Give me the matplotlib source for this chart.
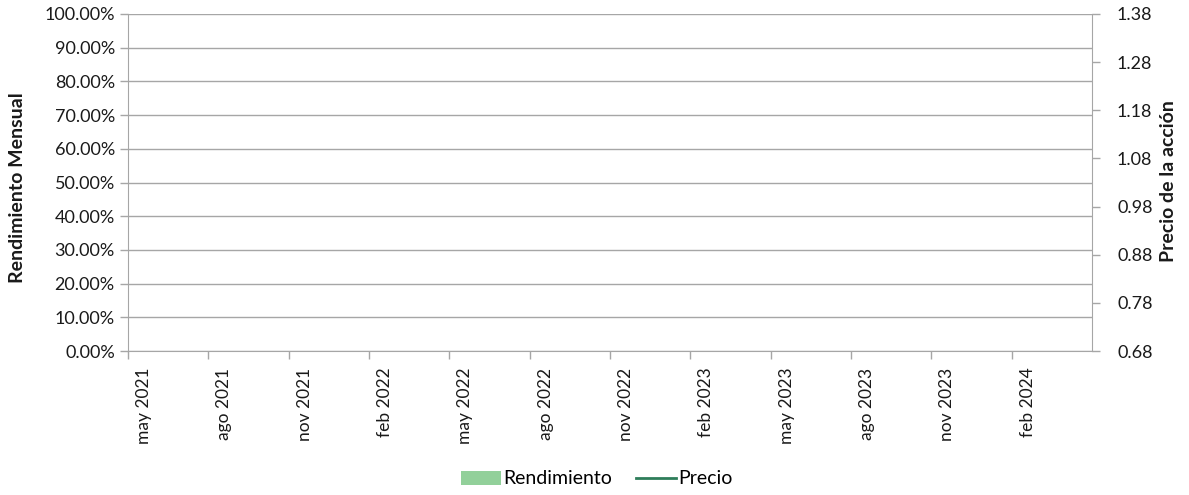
import matplotlib
matplotlib.use("Agg")
import matplotlib.pyplot as plt
from matplotlib.patches import Patch
from matplotlib.lines import Line2D
from matplotlib.ticker import FuncFormatter, FixedLocator

plt.rcParams['font.family'] = ['Lato', 'DejaVu Sans']

# Data (the reference chart shows no plotted values)
tick_labels = ["may 2021", "ago 2021", "nov 2021", "feb 2022", "may 2022", "ago 2022",
               "nov 2022", "feb 2023", "may 2023", "ago 2023", "nov 2023", "feb 2024"]
tick_months = [0, 3, 6, 9, 12, 15, 18, 21, 24, 27, 30, 33]
rend_months = []
rendimiento = []
precio_months = []
precio = []
left_ticks = [0.0, 0.1, 0.2, 0.3, 0.4, 0.5, 0.6, 0.7, 0.8, 0.9, 1.0]
right_ticks = [0.68, 0.78, 0.88, 0.98, 1.08, 1.18, 1.28, 1.38]

W, H = 1189, 495
fig = plt.figure(figsize=(W / 100, H / 100), dpi=100)
L, R, T, B = 128, 1092, 14, 351
ax = fig.add_axes([L / W, 1 - B / H, (R - L) / W, (B - T) / H])
ax2 = ax.twinx()

grid_c = '#a6a6a6'
bar_c = '#92d09a'
line_c = '#2e7d5a'
txt_c = '#1a1a1a'

ax.bar(rend_months, rendimiento, color=bar_c, width=0.6)
ax2.plot(precio_months, precio, color=line_c, lw=2)

ax.set_xlim(0, 36)
ax.set_ylim(0, 1.0)
ax2.set_ylim(0.68, 1.38)

ax.set_yticks(left_ticks)
ax.yaxis.set_major_formatter(FuncFormatter(lambda v, p: f"{v*100:.2f}%"))
ax2.set_yticks(right_ticks)
ax2.set_yticklabels([f"{v:.2f}" for v in right_ticks])

# major ticks (marks) at months; labels drawn slightly right of each mark
ax.set_xticks(tick_months)
ax.set_xticklabels([])
label_shift = 16 / ((R - L) / 36)  # ~16 px in month units
ax.xaxis.set_minor_locator(FixedLocator([m + label_shift for m in tick_months]))
ax.set_xticklabels(tick_labels, minor=True, rotation=90, va='top', ha='center')
ax.tick_params(axis='x', which='minor', length=0, pad=12, labelsize=12.5, labelcolor=txt_c)

ax.grid(axis='y', color=grid_c, lw=1)
ax.set_axisbelow(True)

for a in (ax, ax2):
    for s in a.spines.values():
        s.set_color(grid_c)
    a.spines['top'].set_visible(False)
ax.spines['right'].set_visible(False)
ax2.spines['left'].set_visible(False)
ax2.spines['bottom'].set_visible(False)

ax.tick_params(axis='both', which='major', colors=grid_c, length=6, width=1, labelsize=13, labelcolor=txt_c)
ax2.tick_params(axis='y', colors=grid_c, length=6, width=1, labelsize=13, labelcolor=txt_c, pad=12)

fig.text(18 / W, 1 - 188 / H, "Rendimiento Mensual", rotation=90, ha='center', va='center',
         fontsize=14, fontweight='bold', color=txt_c)
fig.text(1168 / W, 1 - 181 / H, "Precio de la acción", rotation=90, ha='center', va='center',
         fontsize=14, fontweight='bold', color=txt_c)

handles = [Patch(facecolor=bar_c, edgecolor='none', label='Rendimiento'),
           Line2D([0], [0], color=line_c, lw=2, label='Precio')]
fig.legend(handles=handles, loc='center', bbox_to_anchor=(597 / W, 1 - 479 / H), ncol=2,
           frameon=False, fontsize=14, handlelength=2.05, handleheight=0.75, columnspacing=1.2,
           handletextpad=0.15)

fig.savefig("out.png", dpi=100)
